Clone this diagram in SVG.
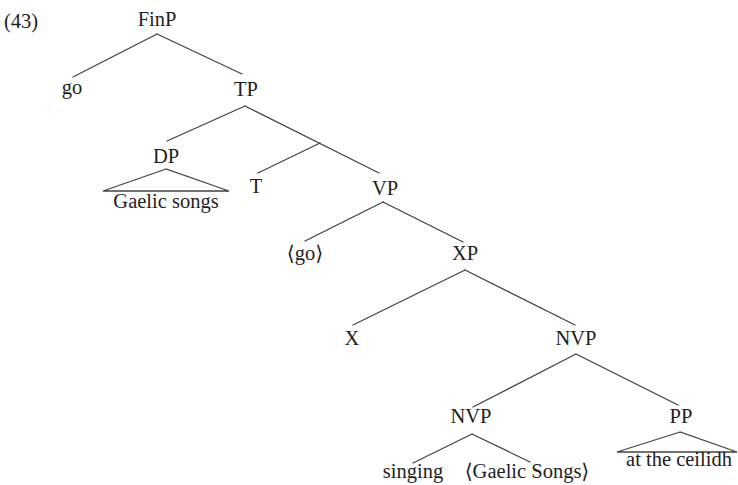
<svg xmlns="http://www.w3.org/2000/svg" width="738" height="485" viewBox="0 0 738 485">
  <style>
    .lbl { font-family: 'Liberation Serif', 'Times New Roman', 'DejaVu Serif', serif; font-size: 20.5px; fill: #1e1e1e; text-anchor: middle; }
    .edge { stroke: #444; stroke-width: 1.3; fill: none; stroke-linecap: round; }
  </style>
  <rect width="738" height="485" fill="#fff"/>

  <g font-family="Liberation Serif, DejaVu Serif, serif" font-size="20">
    <text class="lbl" x="4" y="28" style="text-anchor:start">(43)</text>

    <!-- tree branches -->
    <g id="connectors">
      <line class="edge" x1="157" y1="34" x2="73" y2="77"/>
      <line class="edge" x1="157" y1="34" x2="242" y2="74"/>
      <line class="edge" x1="245" y1="106" x2="167" y2="141"/>
      <line class="edge" x1="245" y1="106" x2="379" y2="173"/>
      <line class="edge" x1="320" y1="143" x2="258" y2="173"/>
      <line class="edge" x1="383" y1="202" x2="305" y2="241"/>
      <line class="edge" x1="383" y1="202" x2="463" y2="242"/>
      <line class="edge" x1="465" y1="270" x2="353" y2="325"/>
      <line class="edge" x1="465" y1="270" x2="575" y2="325"/>
      <line class="edge" x1="576" y1="354" x2="473" y2="407"/>
      <line class="edge" x1="576" y1="354" x2="678" y2="405"/>
      <line class="edge" x1="472" y1="434" x2="413" y2="463"/>
      <line class="edge" x1="472" y1="434" x2="530" y2="462"/>
    </g>

    <g id="FinP"><text class="lbl" x="157" y="26">FinP</text></g>
    <g id="go"><text class="lbl" x="72" y="94">go</text></g>
    <g id="TP"><text class="lbl" x="246" y="96">TP</text></g>
    <g id="DP">
      <text class="lbl" x="166" y="163">DP</text>
      <polygon class="edge" points="166,169 103,191 229,191"/>
      <text class="lbl" x="166" y="208">Gaelic songs</text>
    </g>
    <g id="T"><text class="lbl" x="256" y="193">T</text></g>
    <g id="VP"><text class="lbl" x="385" y="195">VP</text></g>
    <g id="go-copy"><text class="lbl" x="305" y="260">⟨go⟩</text></g>
    <g id="XP"><text class="lbl" x="465" y="260">XP</text></g>
    <g id="X"><text class="lbl" x="352" y="345">X</text></g>
    <g id="NVP"><text class="lbl" x="576" y="345">NVP</text></g>
    <g id="NVP-low"><text class="lbl" x="471" y="423">NVP</text></g>
    <g id="singing"><text class="lbl" x="413" y="478">singing</text></g>
    <g id="gaelic-copy"><text class="lbl" x="527" y="478">⟨Gaelic Songs⟩</text></g>
    <g id="PP">
      <text class="lbl" x="681" y="423">PP</text>
      <polygon class="edge" points="680,432 617,452 737,452"/>
      <text class="lbl" x="679" y="466">at the ceilidh</text>
    </g>
  </g>
</svg>
